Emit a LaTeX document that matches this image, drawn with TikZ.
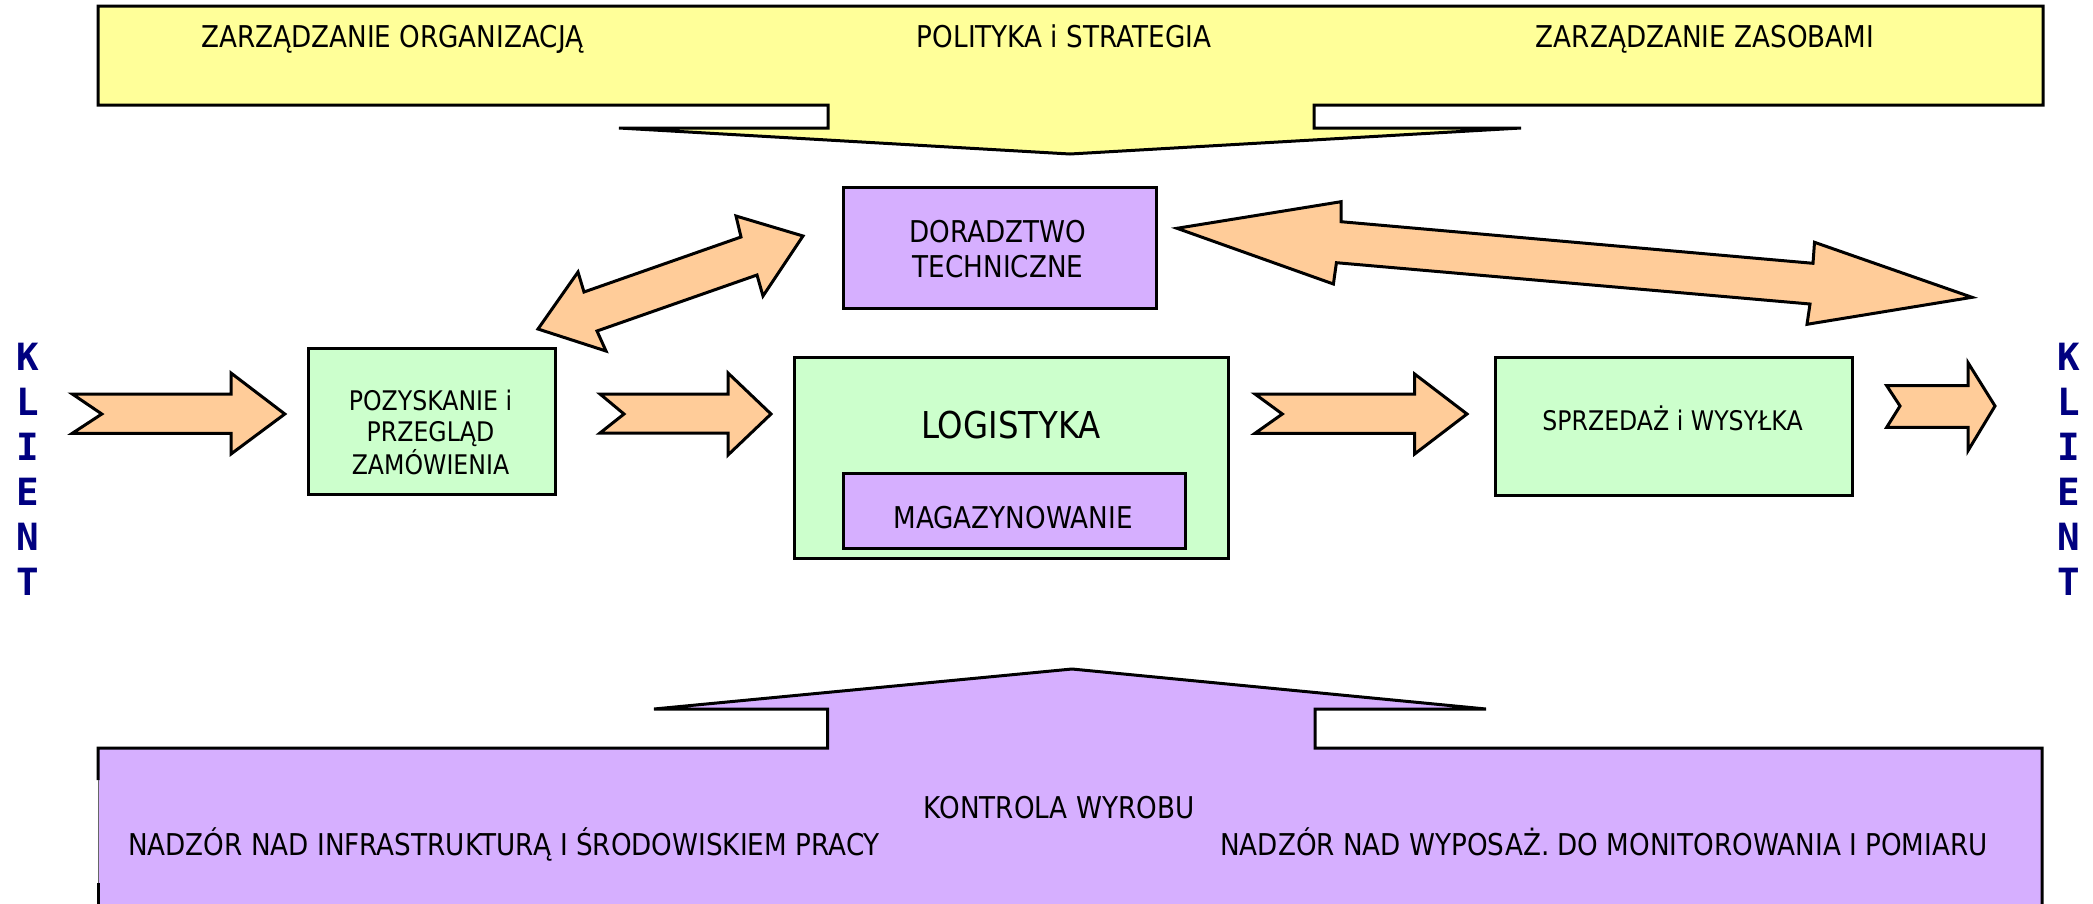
\documentclass[tikz,border=0pt]{standalone}
\usepackage{fontspec}
\setmainfont{DejaVu Sans}[FakeStretch=0.875]
\newfontfamily\klientfont{DejaVu Sans Mono}
\definecolor{orng}{HTML}{FFCC99}
\definecolor{grn}{HTML}{CCFFCC}
\definecolor{prp}{HTML}{D6AFFF}
\definecolor{ylw}{HTML}{FFFF99}
\definecolor{navyk}{HTML}{000080}
\begin{document}
\begin{tikzpicture}[x=1pt,y=-1pt, line width=3pt, line join=miter,
  box/.style={draw=black, line width=3pt, inner sep=0pt, anchor=north west},
  blk/.style={fill=orng, draw=black, line width=3pt},
  lbl/.style={inner sep=0pt, anchor=base, font=\fontsize{30}{36}\selectfont},
  lblsm/.style={lbl, font=\fontsize{27}{32}\selectfont},
  kl/.style={inner sep=0pt, anchor=base, text=navyk, font=\klientfont\bfseries\fontsize{37.5}{45}\selectfont},
]
\useasboundingbox (0,0) rectangle (2093,903);

% top yellow banner
\filldraw[fill=ylw] (98,6) -- (2043,6) -- (2043,105) -- (1314,105) -- (1314,128) -- (1521,128) -- (1070,154) -- (619,128) -- (828,128) -- (828,105) -- (98,105) -- cycle;
\node[lbl] (zorg) at (392.5,47.7) {ZARZĄDZANIE ORGANIZACJĄ};
\node[lbl] (polit) at (1064,47.7) {POLITYKA i STRATEGIA};
\node[lbl] (zzas) at (1705,47.7) {ZARZĄDZANIE ZASOBAMI};

% bottom purple banner
\fill[prp] (98,906) -- (98,748) -- (827.6,748) -- (827.6,709) -- (654,709) -- (1072,669) -- (1486,709) -- (1315,709) -- (1315,748) -- (2042,748) -- (2042,906) -- cycle;
\draw (98,780) -- (98,748) -- (827.6,748) -- (827.6,709) -- (654,709) -- (1072,669) -- (1486,709) -- (1315,709) -- (1315,748) -- (2042,748) -- (2042,906);
\draw[line width=1pt, black!60] (98,780) -- (98,883);
\draw (98,883) -- (98,906);
\node[lbl] (kontr) at (1059,818.3) {KONTROLA WYROBU};
\node[lbl] (nadz1) at (504,855) {NADZÓR NAD INFRASTRUKTURĄ I ŚRODOWISKIEM PRACY};
\node[lbl] (nadz2) at (1604,855) {NADZÓR NAD WYPOSAŻ. DO MONITOROWANIA I POMIARU};

% boxes
\node[box, fill=prp, minimum width=313pt, minimum height=121pt] (dorad) at (842,186) {};
\node[lbl] (doradt1) at (998,242) {DORADZTWO};
\node[lbl] (doradt2) at (998,277) {TECHNICZNE};

\node[box, fill=grn, minimum width=434pt, minimum height=201pt] (logis) at (793,356) {};
\node[lbl, font=\fontsize{37}{44}\selectfont] (logist) at (1011,438) {LOGISTYKA};
\node[box, fill=prp, minimum width=342pt, minimum height=75pt] (magaz) at (842,472) {};
\node[lbl] (magazt) at (1013,528) {MAGAZYNOWANIE};

\node[box, fill=grn, minimum width=247pt, minimum height=146pt] (pozysk) at (307,347) {};
\node[lblsm] (pozt1) at (430.5,410.7) {POZYSKANIE i};
\node[lblsm] (pozt2) at (430.5,441.7) {PRZEGLĄD};
\node[lblsm] (pozt3) at (430.5,474) {ZAMÓWIENIA};

\node[box, fill=grn, minimum width=356.6pt, minimum height=138pt] (sprzed) at (1494,356) {};
\node[lblsm] (sprzedt) at (1672.5,430.7) {SPRZEDAŻ i WYSYŁKA};

% block arrows
\filldraw[blk] (72.3,394) -- (231,394) -- (231,373) -- (284.8,414) -- (231,454) -- (231,433.3) -- (72.3,433.3) -- (101.8,414) -- cycle;
\filldraw[blk] (600,394) -- (728,394) -- (728,373) -- (771,414) -- (728,455) -- (728,433) -- (600,433) -- (624,414) -- cycle;
\filldraw[blk] (1255,394) -- (1414.6,394) -- (1414.6,374) -- (1467,414) -- (1414.6,454) -- (1414.6,433.3) -- (1255,433.3) -- (1282.3,414) -- cycle;
\filldraw[blk] (1886.7,385.7) -- (1968,385.7) -- (1968,362.7) -- (1995,406) -- (1968,450.7) -- (1968,427.3) -- (1886.7,427.3) -- (1900,406) -- cycle;
\filldraw[blk] (538,329) -- (578,272) -- (584,292) -- (741,237) -- (736,216) -- (803,236) -- (763,296) -- (757,275) -- (597,331) -- (606,351) -- cycle;
\filldraw[blk] (1177,228.3) -- (1341,201.7) -- (1341,221.7) -- (1813,263.3) -- (1814.5,242.3) -- (1972,297.3) -- (1807,324.3) -- (1810,304) -- (1336.4,262.7) -- (1333.4,284) -- cycle;

% KLIENT
\foreach \c [count=\i from 0] in {K,L,I,E,N,T} {
  \node[kl] (kla\i) at (27.5,370+45*\i) {\c};
  \node[kl] (klb\i) at (2069,370+45*\i) {\c};
}
\end{tikzpicture}
\end{document}
